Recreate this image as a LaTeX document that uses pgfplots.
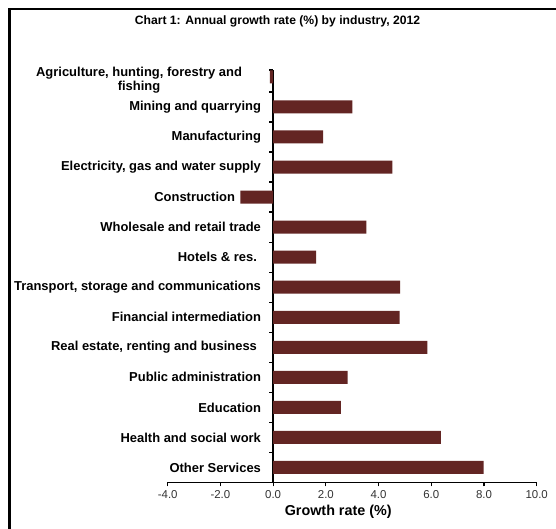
\documentclass[border=0pt]{standalone}
\usepackage{pgfplots}
\pgfplotsset{compat=1.18}
\usepackage{fontspec}
\setmainfont{Liberation Sans}
\definecolor{barred}{HTML}{632523}
\begin{document}
\begin{tikzpicture}[x=1bp,y=1bp]
\useasboundingbox (0,0) rectangle (556,529);
\draw[line width=2.5bp] (9.5,-5) -- (9.5,520) -- (570,520);
\node[font=\fontsize{12.2}{14}\selectfont\bfseries] at (277.5,508) {Chart 1: Annual growth rate (\%) by industry, 2012};
\begin{axis}[
  at={(167.7bp,46.5bp)}, anchor=south west,
  scale only axis, width=369bp, height=412.5bp,
  xbar, bar width=13bp,
  xmin=-4, xmax=10, ymin=-0.5, ymax=13.23,
  axis x line=bottom, axis y line=middle,
  hide obscured x ticks=false,
  axis line style={-, line width=1.5bp, black},
  tick align=outside,
  major tick length=0pt, minor tick length=4bp,
  minor tick style={line width=1.2bp, black},
  xtick={-4,-2,...,10}, minor xtick={-4,-2,...,10},
  ytick={0,...,13}, minor ytick={0.5,1.5,...,12.5,13.23},
  xticklabel style={font=\fontsize{11.5}{13}\selectfont, text=black!80, yshift=-4bp},
  /pgf/number format/.cd, fixed, fixed zerofill, precision=1, assume math mode=true,
  /pgfplots/.cd,
  yticklabel style={font=\fontsize{13}{14.5}\selectfont\bfseries, anchor=east, inner sep=0pt, xshift=-12bp},
  yticklabels={Other Services, Health and social work, Education, Public administration,
    {Real estate, renting and business\rule{4bp}{0pt}}, Financial intermediation,
    {Transport, storage and communications}, {Hotels \& res.\rule{4bp}{0pt}},
    Wholesale and retail trade, {Construction\rule{26bp}{0pt}},
    {Electricity, gas and water supply}, Manufacturing, Mining and quarrying,
    {\raisebox{-3.5bp}[\height][\depth]{\begin{tabular}{@{}c@{}}Agriculture, hunting, forestry and\\[-1bp] fishing\end{tabular}}\rule{19bp}{0pt}}},
  xlabel={Growth rate (\%)},
  xlabel style={font=\fontsize{14.4}{16}\selectfont\bfseries, xshift=-14bp},
  clip=false,
]
\addplot[fill=barred, draw=none] coordinates {
(7.99,0) (6.36,1) (2.57,2) (2.83,3) (5.85,4) (4.80,5) (4.82,6) (1.63,7)
(3.54,8) (-1.24,9) (4.52,10) (1.90,11) (3.01,12) (-0.12,13)};
\end{axis}
\end{tikzpicture}
\end{document}
